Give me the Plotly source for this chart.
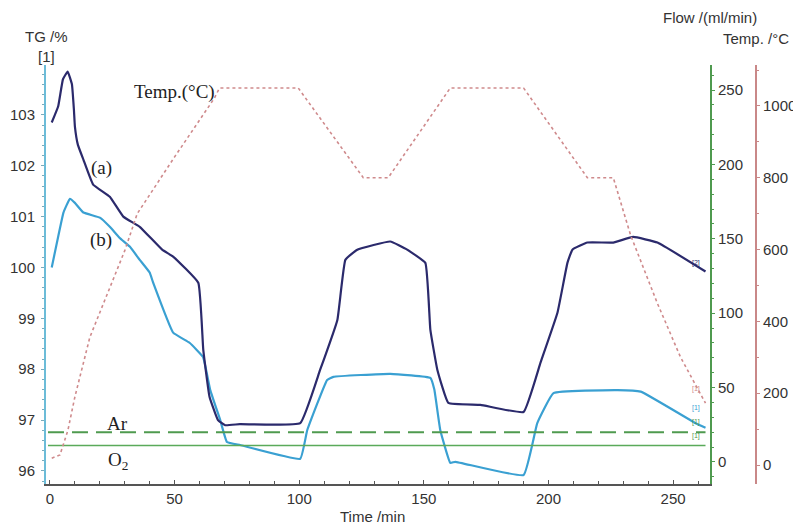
import plotly.graph_objects as go

# ---- data ----
time_a = [0.7, 3.3, 5.2, 7.1, 8.8, 9.6, 10.0, 11.2, 13.4, 17.3, 24.0, 29.4, 36.0, 45.0, 49.5, 59.5,
          61.5, 64.0, 67.4, 70.3, 76.2, 100.4, 108.4, 115.3, 118.5, 123.3, 136.5, 143.3, 150.6,
          152.6, 155.4, 159.8, 172.7, 190.0, 196.8, 203.6, 207.6, 209.6, 215.6, 226.0, 234.0,
          243.7, 263.0]
tg_a = [102.85, 103.17, 103.70, 103.85, 103.60, 103.10, 102.77, 102.41, 102.12, 101.63, 101.39,
        101.00, 100.80, 100.35, 100.21, 99.70, 98.38, 97.46, 97.00, 96.90, 96.92, 96.94, 97.99,
        98.97, 100.15, 100.35, 100.51, 100.35, 100.09, 98.78, 97.99, 97.34, 97.30, 97.16, 98.13,
        99.11, 100.09, 100.35, 100.49, 100.49, 100.60, 100.49, 99.92]

time_b = [0.7, 3.3, 5.4, 8.0, 10.0, 13.4, 20.0, 24.0, 28.0, 32.0, 36.0, 40.0, 41.4, 49.4, 56.0,
          61.4, 64.3, 68.3, 71.0, 76.3, 100.4, 103.2, 111.2, 113.7, 136.5, 152.6, 154.2, 156.6,
          160.6, 162.6, 190.0, 195.5, 202.0, 227.7, 237.0, 259.0, 263.0]
tg_b = [100.00, 100.61, 101.08, 101.35, 101.27, 101.08, 100.98, 100.80, 100.58, 100.41, 100.15,
        99.90, 99.70, 98.72, 98.52, 98.24, 97.59, 97.00, 96.57, 96.51, 96.24, 96.80, 97.79, 97.85,
        97.91, 97.83, 97.60, 96.80, 96.16, 96.18, 95.92, 96.94, 97.53, 97.59, 97.56, 96.94, 96.85]

time_temp = [0.7, 4.0, 7.2, 10.0, 16.0, 30.0, 35.0, 50.0, 66.0, 68.0, 99.6, 125.7, 135.7, 160.6,
             190.0, 215.6, 226.0, 233.0, 243.7, 253.0, 263.0]
temp_c = [19, 28, 97, 190, 356, 597, 700, 858, 1022, 1050, 1050, 800, 800, 1050, 1050, 800, 800,
          639, 450, 300, 172]

gas_time = [-0.8, 263.0]
flow_ar = [20, 20]
flow_o2 = [11, 11]

tg_ticks = [96, 97, 98, 99, 100, 101, 102, 103]
flow_ticks = [0, 50, 100, 150, 200, 250]
temp_ticks = [0, 200, 400, 600, 800, 1000]
time_ticks = [0, 50, 100, 150, 200, 250]

# ---- colours ----
C_A = "#2b2a6c"
C_B = "#3aa0d2"
C_T = "#cf8a8c"
C_G = "#4f9a4f"
C_R = "#c98888"
C_AX_L = "#6cbcd8"
TXT = "#333333"

# page offset (html body margin) and plot-area geometry in page pixels
OFF = 8
PL, PR, PT, PB = 46, 756, 65, 484
W, H = 801, 526
L, R, T, B = PL - OFF, PR - OFF, PT - OFF, PB - OFF


def px2paper(px, py):
    return (px - PL) / (PR - PL), (PB - py) / (PB - PT)


fig = go.Figure()
fig.add_trace(go.Scatter(x=time_temp, y=temp_c, yaxis="y3", mode="lines",
                         line=dict(color=C_T, width=1.6, dash="dot"), showlegend=False))
fig.add_trace(go.Scatter(x=gas_time, y=flow_ar, yaxis="y2", mode="lines",
                         line=dict(color=C_G, width=2, dash="16px,8px"), showlegend=False))
fig.add_trace(go.Scatter(x=gas_time, y=flow_o2, yaxis="y2", mode="lines",
                         line=dict(color="#5aaa5a", width=1.5), showlegend=False))
fig.add_trace(go.Scatter(x=time_b, y=tg_b, mode="lines",
                         line=dict(color=C_B, width=2.2, shape="spline", smoothing=0.3), showlegend=False))
fig.add_trace(go.Scatter(x=time_a, y=tg_a, mode="lines",
                         line=dict(color=C_A, width=2.2, shape="spline", smoothing=0.3), showlegend=False))

tickfont = dict(family="Liberation Sans, Arial", size=15, color=TXT)

fig.update_layout(
    width=W, height=H,
    margin=dict(l=L, r=W - R, t=T, b=H - B, autoexpand=False),
    paper_bgcolor="white", plot_bgcolor="white",
    xaxis=dict(domain=[0, (710 - PL) / (PR - PL)], range=[-1.6, 264.8], tickvals=time_ticks,
               automargin=False,
               showgrid=False, zeroline=False, showline=True, linecolor="#555555", linewidth=2,
               ticks="inside", ticklen=4, tickcolor="#555555", tickfont=tickfont,
               minor=dict(dtick=10, ticks="inside", ticklen=3, tickcolor="#555555")),
    yaxis=dict(range=[95.744, 103.98], tickvals=tg_ticks, showgrid=False, zeroline=False,
               automargin=False,
               showline=True, linecolor=C_AX_L, linewidth=2, ticks="outside", ticklen=3,
               tickcolor="#7aaabb", tickfont=tickfont, ticklabelstandoff=3,
               minor=dict(dtick=0.2, ticks="outside", ticklen=2, tickcolor="#7aaabb")),
    yaxis2=dict(range=[-14.8, 266.8], tickvals=flow_ticks, overlaying="y", side="right",
                automargin=False,
                anchor="x", showgrid=False, zeroline=False, showline=True, linecolor=C_G,
                linewidth=2, ticks="outside", ticklen=3, tickcolor=C_G, tickfont=tickfont,
                minor=dict(dtick=10, ticks="outside", ticklen=2, tickcolor=C_G)),
    yaxis3=dict(range=[-52.9, 1114], tickvals=temp_ticks, overlaying="y", side="right",
                automargin=False,
                anchor="free", position=1.0, showgrid=False, zeroline=False, showline=True,
                linecolor=C_R, linewidth=2, ticks="outside", ticklen=3, tickcolor=C_R,
                tickfont=tickfont,
                minor=dict(dtick=100, ticks="outside", ticklen=2, tickcolor=C_R)),
)

serif = dict(family="Liberation Serif, Times New Roman", size=19, color="#222222")
ann = [
    dict(x=20.5, y=101.96, text="(a)"),
    dict(x=20.3, y=100.54, text="(b)"),
    dict(x=49.8, y=103.45, text="Temp.(°C)"),
    dict(x=27.1, y=96.94, text="Ar"),
    dict(x=27.1, y=96.20, text="O<sub>2</sub>"),
]
for a in ann:
    fig.add_annotation(x=a["x"], y=a["y"], xref="x", yref="y", text=a["text"],
                       showarrow=False, font=serif)

sans = dict(family="Liberation Sans, Arial", size=15, color=TXT)
titles = [
    (46, 36, "TG /%"),
    (46, 56, "[1]"),
    (710, 17, "Flow /(ml/min)"),
    (756, 38, "Temp. /°C"),
    (372, 516, "Time /min"),
]
for px, py, t in titles:
    xp, yp = px2paper(px, py)
    fig.add_annotation(x=xp, y=yp, xref="paper", yref="paper", text=t,
                       showarrow=False, font=sans, xanchor="center", yanchor="middle")

# tiny curve markers at right end
small = [
    (702, 263, "[2]", C_A),
    (702, 395, "[1]", C_T),
    (702, 414, "[1]", C_B),
    (702, 428, "[1]", C_G),
    (702, 442, "[1]", C_G),
]
for px, py, t, c in small:
    xp, yp = px2paper(px, py)
    fig.add_annotation(x=xp, y=yp, xref="paper", yref="paper",
                       text=t, showarrow=False, font=dict(size=7, color=c, family="Liberation Sans"))

fig.write_html("out.html")
